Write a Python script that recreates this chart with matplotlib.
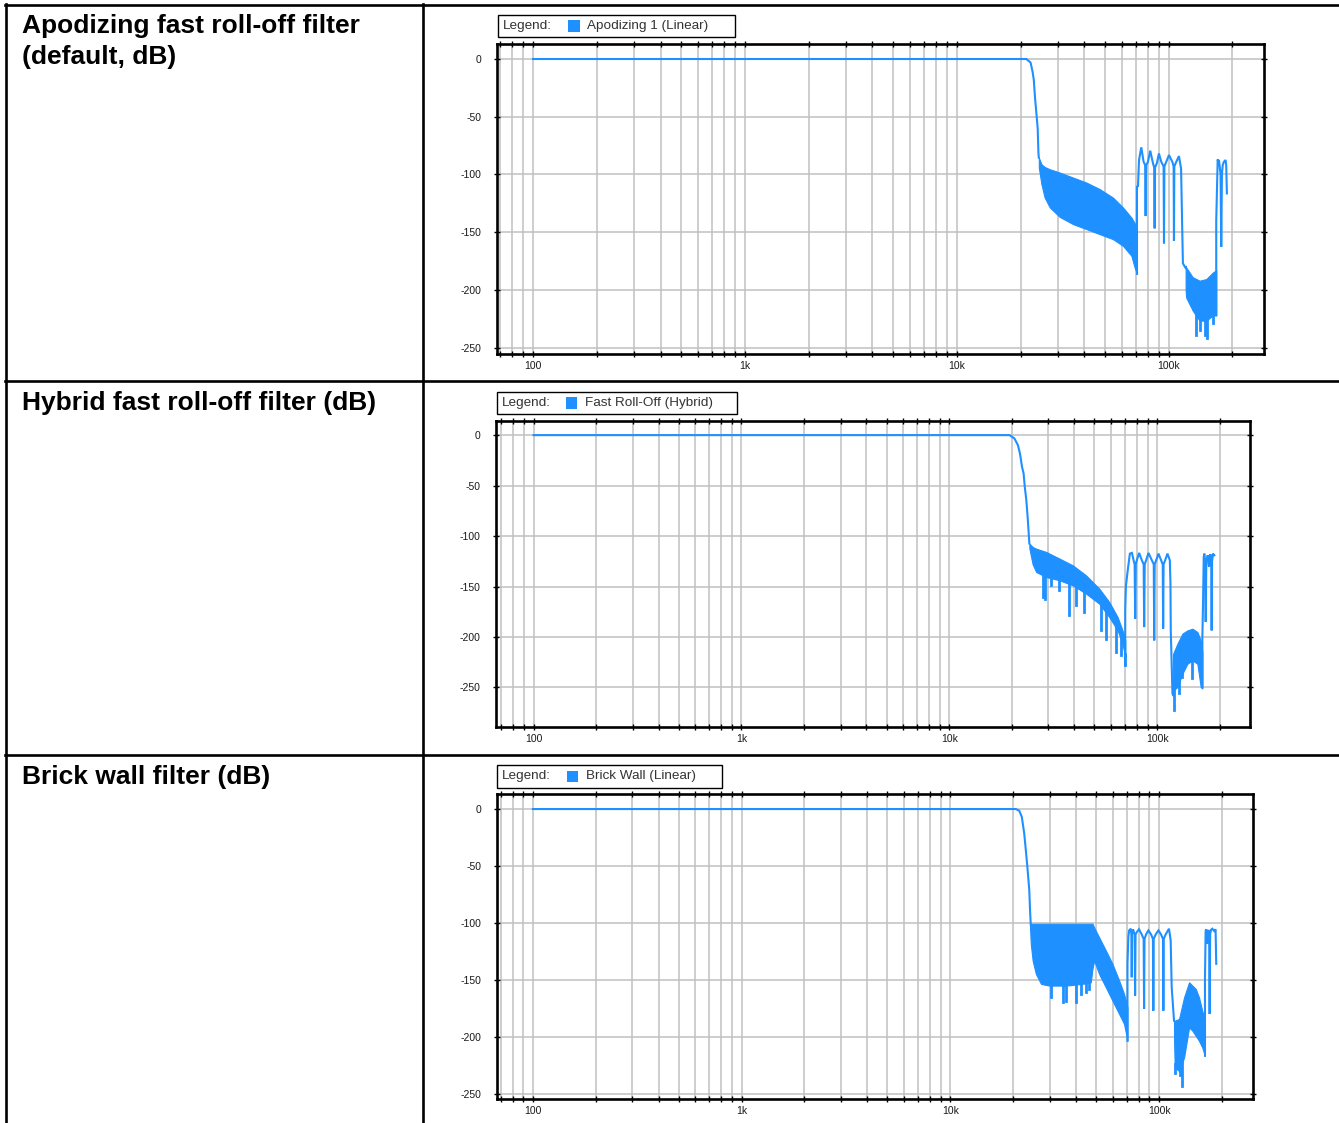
import numpy as np
import matplotlib
matplotlib.use("Agg")
import matplotlib.pyplot as plt
from matplotlib.patches import Rectangle
from matplotlib.lines import Line2D
from matplotlib.ticker import NullFormatter

plt.rcParams['font.family'] = ['Liberation Sans', 'DejaVu Sans']

# ---------------- text / ticks ----------------
titles = ["Apodizing fast roll-off filter\n(default, dB)",
          "Hybrid fast roll-off filter (dB)",
          "Brick wall filter (dB)"]
legend_labels = ["Apodizing 1 (Linear)", "Fast Roll-Off (Hybrid)", "Brick Wall (Linear)"]
x_major = [100, 1000, 10000, 100000]
x_major_labels = ["100", "1k", "10k", "100k"]
x_minor = [70, 80, 90, 200, 300, 400, 500, 600, 700, 800, 900,
           2000, 3000, 4000, 5000, 6000, 7000, 8000, 9000,
           20000, 30000, 40000, 50000, 60000, 70000, 80000, 90000, 200000]
y_ticks = [0, -50, -100, -150, -200, -250]
y_tick_labels = ["0", "-50", "-100", "-150", "-200", "-250"]

# ---------------- chart 1: Apodizing ----------------
A_pass_f = [100, 21300, 22300, 22800, 23100, 23400, 23800, 24100, 24300, 24400]
A_pass_db = [0, 0, -3, -11, -18, -33, -48.5, -60, -81.5, -85.4]
A_band_f = [24400, 25100, 26000, 27500, 30600, 35400, 40900, 47300, 54600, 60900, 66700, 69100, 70900]
A_band_hi = [-85.4, -91.1, -93.5, -95.5, -98.3, -102.7, -107, -112.7, -120, -128.6, -137.3, -142, -148]
A_band_lo = [-94, -108.4, -120, -128.6, -136.7, -143, -147.3, -151.7, -156, -161.8, -170.4, -180.5, -186.2]
A_spk_f = []
A_spk_db = []
A_img_f = [70900, 70900, 71700, 72500, 74300, 76200, 77500, 77900, 78300, 79900, 81900, 84400, 85500,
           85900, 86300, 88100, 90000, 92300, 94700, 95100, 95500, 97500, 100400, 104100, 105600,
           106000, 106400, 108700, 111900, 114500, 116800, 120300]
A_img_db = [-186, -110.6, -110, -87.5, -76.5, -89, -92, -136, -92, -89, -79.4, -90.4, -94,
            -146.7, -94, -90, -81.8, -89, -93, -159.7, -93, -89, -83.2, -89, -93,
            -157.4, -93, -89, -84.1, -95, -177, -181]
A_deep_f = [120300, 121000, 130000, 140000, 150600, 162000, 167800]
A_deep_hi = [-179, -180.5, -189, -192, -190.6, -184.8, -183]
A_deep_lo = [-200, -206.5, -218, -226.6, -226.6, -222, -222]
A_dspk_f = [134100, 140000, 147800, 152200, 161900]
A_dspk_db = [-239.2, -234.9, -239.2, -242, -229]
A_img2_f = [167800, 167800, 169700, 170500, 171500, 172800, 174000, 175900, 177200, 178500,
            180000, 182400, 185700, 187000, 188400]
A_img2_db = [-222, -140, -102, -87, -90, -87.5, -92, -100, -162.7, -100,
             -92, -89, -87.5, -92, -116.4]

# ---------------- chart 2: Hybrid ----------------
B_pass_f = [100, 19500, 20600, 21400, 21900, 22400, 22800, 23100, 23500, 23900, 24300]
B_pass_db = [0, 0, -3.3, -9.9, -18.2, -31.4, -38, -51.3, -64.5, -84.3, -107.4]
B_band_f = [24300, 25200, 26200, 29300, 33900, 39300, 45500, 52700, 58900, 64600, 68200, 70300]
B_band_hi = [-107.4, -110.8, -112.5, -115.8, -122.3, -129, -138.9, -152.1, -165.4, -180.3, -193.5, -203.4]
B_band_lo = [-112, -128, -135.6, -140.6, -143.8, -148.8, -157, -167, -180.3, -193.5, -206.8, -220]
B_spk_f = [28200, 29000, 30900, 33900, 37900, 40700, 44600, 53700, 56800, 63400, 67000, 70300]
B_spk_db = [-160.4, -162, -148.8, -153.8, -178.6, -168.7, -175.3, -193.5, -201.7, -215, -218.3, -228.2]
B_img_f = [70300, 70300, 70800, 72100, 74000, 75700, 77100, 78000, 78500, 79000,
           79900, 82000, 84500, 86200, 86700, 87200, 88600, 90900, 94400, 96400,
           96900, 97400, 99000, 101600, 104600, 106500, 107000, 107500, 109400, 112200,
           115200, 116000, 116400, 118600]
B_img_db = [-228, -173.6, -150, -135.6, -117.4, -116.7, -124, -128, -181.9, -128,
            -124, -116.7, -124, -128, -190.2, -128, -124, -116.7, -124, -128,
            -203.4, -128, -124, -117.4, -124, -128, -191.8, -128, -124, -117.4,
            -124, -147, -193.5, -256]
B_deep_f = [118600, 119500, 125300, 132400, 139900, 148000, 156300, 162200, 165200]
B_deep_hi = [-245, -216.6, -206.6, -196.7, -193.5, -191.8, -195.1, -203.4, -215]
B_deep_lo = [-258, -253, -249.7, -236.4, -226.5, -223.2, -226.5, -249.7, -251]
B_dspk_f = [120800, 127600, 131500, 148000]
B_dspk_db = [-272.8, -256, -240, -241]
B_img2_f = [165200, 165200, 166500, 167700, 168900, 170200, 171400, 172600, 175300, 177800,
            180500, 182300, 183100, 183900, 185900, 188600]
B_img2_db = [-249.7, -200, -163.7, -120.7, -117.4, -125, -185.2, -125, -119, -130.6,
             -118, -125, -193.5, -125, -117.4, -119]

# ---------------- chart 3: Brick wall ----------------
C_pass_f = [100, 20600, 21400, 22000, 22600, 23000, 23400, 23900, 24100, 24300]
C_pass_db = [0, 0, -1.5, -6.8, -21.4, -36, -50.8, -71.3, -88.9, -102]
C_band_f = [24100, 24300, 24800, 25700, 27200, 29800, 35800, 42900, 47100, 48000,
            48900, 51600, 55600, 59800, 64400, 68000, 70600]
C_band_hi = [-100.6, -100.6, -100.6, -100.6, -100.6, -100.6, -100.6, -100.6, -100.6, -100.6,
             -104, -112.4, -124.1, -135.8, -150.5, -162.3, -174]
C_band_lo = [-104, -118.2, -132.9, -144.6, -153.4, -154.9, -154.9, -153.4, -152, -140,
             -132.9, -144.6, -156.4, -168.1, -179.8, -188.6, -203.3]
C_spk_f = [30300, 34500, 35800, 39900, 42200, 44600, 46300]
C_spk_db = [-165.2, -169.6, -168.1, -169.6, -162.2, -160.8, -157.8]
C_img_f = [70600, 70600, 71300, 71900, 73200, 73700, 74000, 74300, 75100, 76400,
           76800, 77200, 78200, 80200, 82600, 84400, 84800, 85200, 86700, 88900,
           91600, 93500, 93900, 94300, 96400, 99300, 102200, 104500, 104900, 105300,
           107600, 111600, 113700, 115000, 118000]
C_img_db = [-203.3, -135.8, -112, -106.5, -105, -110, -147.6, -110, -105.5, -110,
            -163.7, -110, -108, -105.5, -110, -114, -175.4, -114, -110, -106.5,
            -110, -114, -176.9, -114, -110, -106.5, -110, -114, -176.9, -114,
            -110, -105, -115, -156.4, -185.7]
C_deep_f = [118000, 118900, 124700, 131800, 139300, 144500, 149900, 155400, 161100, 165900, 166000]
C_deep_hi = [-185.7, -185.7, -184.2, -165.2, -152, -154.9, -157.8, -165.2, -177, -185.7, -190]
C_deep_lo = [-200, -226.8, -229.8, -218, -191.6, -194.5, -198.9, -203.3, -209.2, -216.5, -216.5]
C_dspk_f = [119500, 126000, 129200]
C_dspk_db = [-232, -233, -243]
C_img2_f = [166000, 166000, 167200, 168500, 170300, 172200, 173800, 174800, 175800, 177400,
            180000, 183900, 186600, 188000]
C_img2_db = [-216.5, -150, -107, -105.5, -118, -106, -110, -179.8, -110, -106,
             -105, -107, -105.5, -135.8]

series = [
    (A_pass_f, A_pass_db, A_band_f, A_band_hi, A_band_lo, A_spk_f, A_spk_db, A_img_f, A_img_db,
     A_deep_f, A_deep_hi, A_deep_lo, A_dspk_f, A_dspk_db, A_img2_f, A_img2_db),
    (B_pass_f, B_pass_db, B_band_f, B_band_hi, B_band_lo, B_spk_f, B_spk_db, B_img_f, B_img_db,
     B_deep_f, B_deep_hi, B_deep_lo, B_dspk_f, B_dspk_db, B_img2_f, B_img2_db),
    (C_pass_f, C_pass_db, C_band_f, C_band_hi, C_band_lo, C_spk_f, C_spk_db, C_img_f, C_img_db,
     C_deep_f, C_deep_hi, C_deep_lo, C_dspk_f, C_dspk_db, C_img2_f, C_img2_db),
]

# ---------------- layout (pixels) ----------------
W, H = 1339, 1123
BLUE = '#1e90ff'
layout = [
    dict(ax=(497, 44, 1264, 354), xlim=(67.6, 282000), ylim=(-255.5, 13),
         leg=(497.5, 14.7, 735, 37.3), tx=503, sq=568, lab=587, base=[33, 64]),
    dict(ax=(496, 421, 1250, 727), xlim=(66, 280000), ylim=(-289.2, 14),
         leg=(497.3, 391.7, 737, 414), tx=501.7, sq=565.7, lab=585, base=[410.5]),
    dict(ax=(497, 794, 1253, 1099), xlim=(67.3, 282000), ylim=(-254.4, 13.2),
         leg=(497, 765, 722, 788), tx=501.7, sq=566.7, lab=585.7, base=[784]),
]

fig = plt.figure(figsize=(W / 100, H / 100), dpi=100)


def fx(px):
    return px / W


def fy(py):
    return 1 - py / H


# table lines
for yy in (4.5, 381, 754.5):
    fig.add_artist(Line2D([fx(4.5), fx(W)], [fy(yy), fy(yy)], color='black', lw=1.9))
for xx in (5.5, 423):
    fig.add_artist(Line2D([fx(xx), fx(xx)], [fy(3.5), fy(H)], color='black', lw=1.9))


def draw(ax, d):
    (pf, pdb, bf, bhi, blo, sf, sdb, imf, imdb, df, dhi, dlo, dsf, dsdb, i2f, i2db) = d
    kw = dict(color=BLUE, lw=1.5, zorder=3, solid_joinstyle='miter')
    ax.plot(pf, pdb, **kw)
    ax.fill_between(bf, blo, bhi, color=BLUE, lw=0.8, zorder=3)
    for f, v in zip(sf, sdb):
        base = np.interp(np.log10(f), np.log10(bf), blo)
        ax.plot([f, f], [base + 3, v], color=BLUE, lw=2.0, zorder=3)
    ax.plot(imf, imdb, **kw)
    ax.fill_between(df, dlo, dhi, color=BLUE, lw=0.8, zorder=3)
    for f, v in zip(dsf, dsdb):
        base = np.interp(np.log10(f), np.log10(df), dlo)
        ax.plot([f, f], [base + 3, v], color=BLUE, lw=2.0, zorder=3)
    ax.plot(i2f, i2db, **kw)


for i, lay in enumerate(layout):
    x0, y0, x1, y1 = lay['ax']
    ax = fig.add_axes([fx(x0), fy(y1), (x1 - x0) / W, (y1 - y0) / H])
    ax.set_xscale('log')
    draw(ax, series[i])
    ax.set_xlim(*lay['xlim'])
    ax.set_ylim(*lay['ylim'])
    ax.set_xticks(x_major)
    ax.set_xticklabels(x_major_labels)
    ax.set_xticks(x_minor, minor=True)
    ax.xaxis.set_minor_formatter(NullFormatter())
    ax.set_yticks(y_ticks)
    ax.set_yticklabels(y_tick_labels)
    ax.tick_params(axis='x', which='both', direction='inout', length=4.5, width=1,
                   top=True, bottom=True, labelsize=7.5, pad=2.5, labelcolor='#1a1a1a')
    ax.tick_params(axis='y', which='both', direction='inout', length=4.5, width=1,
                   left=True, right=True, labelsize=7.5, pad=9, labelcolor='#1a1a1a')
    ax.grid(True, which='both', axis='x', color='#c0c0c0', lw=1.1)
    ax.grid(True, which='major', axis='y', color='#c0c0c0', lw=1.1)
    ax.set_axisbelow(True)
    for s in ax.spines.values():
        s.set_linewidth(1.9)
        s.set_zorder(5)

    # legend box
    lx0, ly0, lx1, ly1 = lay['leg']
    fig.add_artist(Rectangle((fx(lx0), fy(ly1)), (lx1 - lx0) / W, (ly1 - ly0) / H,
                             transform=fig.transFigure, facecolor='white',
                             edgecolor='black', lw=1.0))
    cy = (ly0 + ly1) / 2
    fig.text(fx(lay['tx']), fy(cy), "Legend:", fontsize=9.7, color='#333333',
             va='center', ha='left')
    sqs = 11.5
    fig.add_artist(Rectangle((fx(lay['sq']), fy(cy + sqs / 2)), sqs / W, sqs / H,
                             transform=fig.transFigure, facecolor=BLUE, edgecolor='none'))
    fig.text(fx(lay['lab']), fy(cy), legend_labels[i], fontsize=9.7, color='#333333',
             va='center', ha='left')

    # row title
    for line, b in zip(titles[i].split("\n"), lay['base']):
        fig.text(fx(22), fy(b), line, fontsize=19, fontweight='bold', color='black',
                 va='baseline', ha='left')

fig.savefig("out.png", dpi=100)
